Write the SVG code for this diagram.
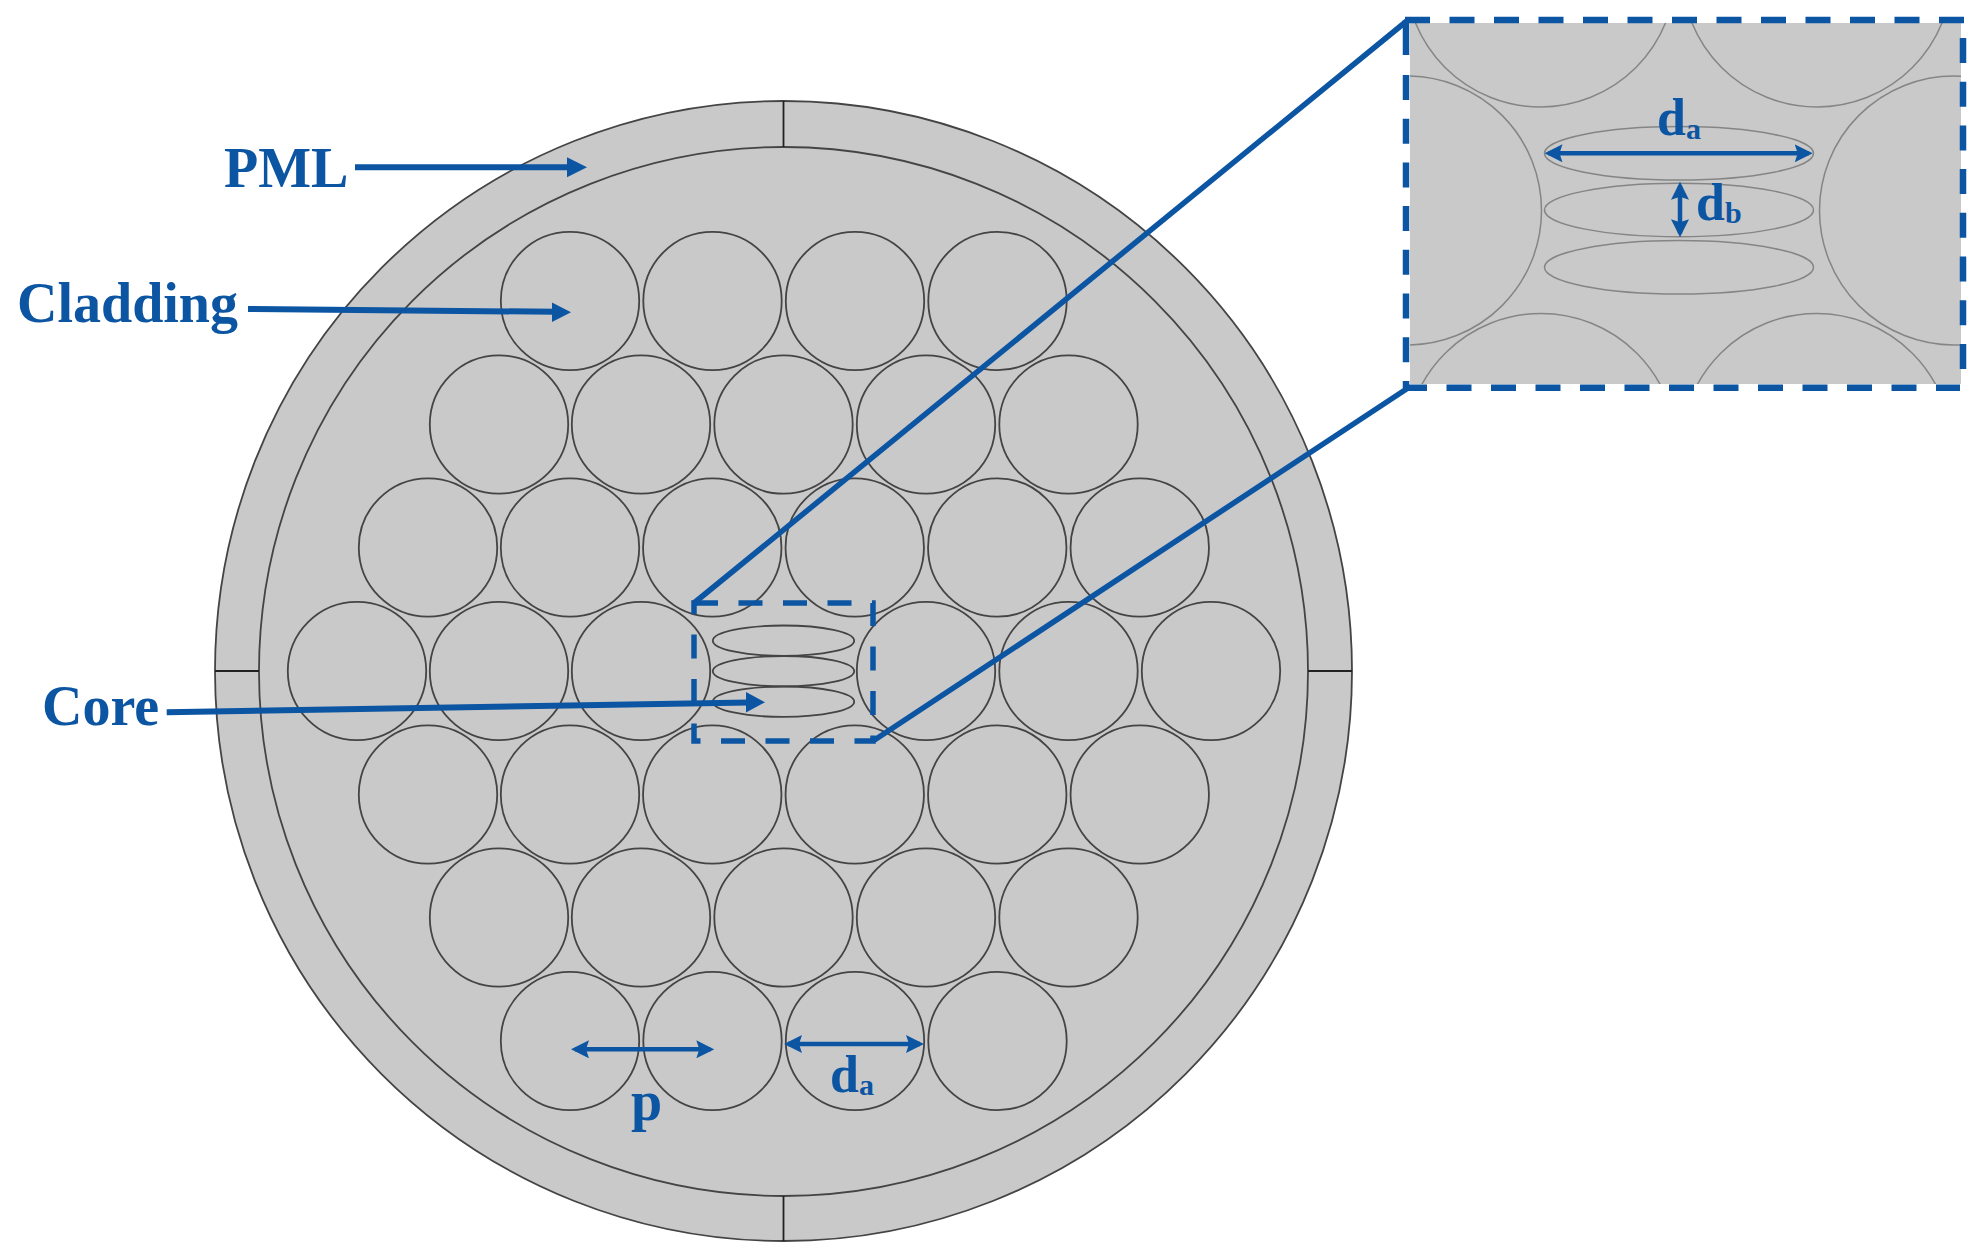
<svg xmlns="http://www.w3.org/2000/svg" width="1987" height="1255" viewBox="0 0 1987 1255">
<style>
.body{fill:#c9c9c9;stroke:#444;stroke-width:1.8}
.hole{fill:none;stroke:#444;stroke-width:1.8}
.thin{fill:none;stroke:#858585;stroke-width:1.5}
.blue{stroke:#0b55a3;fill:none}
.head{fill:#0b55a3;stroke:none}
text{font-family:"Liberation Serif","Times New Roman",serif;font-weight:700;fill:#0b55a3}
</style>
<defs>
<circle id="c" r="69.2" class="hole"/>
<ellipse id="e" rx="70.7" ry="15.2" class="hole"/>
<clipPath id="inset"><rect x="1410" y="23" width="551" height="361"/></clipPath>
<marker id="ah" viewBox="0 0 18 18" refX="14" refY="9" markerWidth="18" markerHeight="18" markerUnits="userSpaceOnUse" orient="auto-start-reverse"><path d="M0 0L18 9L0 18L3 9Z" class="head"/></marker>
</defs>
<g id="fiber">
<ellipse class="body" cx="783.5" cy="671" rx="568.5" ry="570"/>
<circle class="hole" cx="783.5" cy="671.5" r="524.5"/>
<path class="hole" d="M783.5 101V147M783.5 1196V1241M215 671H259M1308 671H1352" style="stroke:#222"/>
</g>
<g id="holes">
<use href="#c" x="570" y="301"/><use href="#c" x="712.5" y="301"/><use href="#c" x="855" y="301"/><use href="#c" x="997.5" y="301"/>
<use href="#c" x="499" y="424.5"/><use href="#c" x="641" y="424.5"/><use href="#c" x="783.5" y="424.5"/><use href="#c" x="926" y="424.5"/><use href="#c" x="1068.5" y="424.5"/>
<use href="#c" x="428" y="547.5"/><use href="#c" x="570" y="547.5"/><use href="#c" x="712.25" y="547.5"/><use href="#c" x="854.75" y="547.5"/><use href="#c" x="997.25" y="547.5"/><use href="#c" x="1139.75" y="547.5"/>
<use href="#c" x="357" y="671"/><use href="#c" x="499" y="671"/><use href="#c" x="641" y="671"/><use href="#c" x="926" y="671"/><use href="#c" x="1068.5" y="671"/><use href="#c" x="1211" y="671"/>
<use href="#c" x="428" y="794.5"/><use href="#c" x="570" y="794.5"/><use href="#c" x="712.25" y="794.5"/><use href="#c" x="854.75" y="794.5"/><use href="#c" x="997.25" y="794.5"/><use href="#c" x="1139.75" y="794.5"/>
<use href="#c" x="499" y="917.5"/><use href="#c" x="641" y="917.5"/><use href="#c" x="783.5" y="917.5"/><use href="#c" x="926" y="917.5"/><use href="#c" x="1068.5" y="917.5"/>
<use href="#c" x="570" y="1041"/><use href="#c" x="712.5" y="1041"/><use href="#c" x="855" y="1041"/><use href="#c" x="997.5" y="1041"/>
</g>
<g id="core">
<use href="#e" x="783.5" y="640.7"/><use href="#e" x="783.5" y="671.2"/><use href="#e" x="783.5" y="701.7"/>
</g>
<g id="inset-view">
<rect x="1410" y="23" width="551" height="361" fill="#c9c9c9"/>
<g clip-path="url(#inset)" class="thin">
<circle cx="1540.5" cy="-28" r="135"/><circle cx="1817" cy="-28" r="135"/>
<circle cx="1407" cy="210.5" r="134.5"/><circle cx="1954" cy="210.5" r="134.5"/>
<circle cx="1541" cy="449" r="135.5"/><circle cx="1816.5" cy="449" r="135.5"/>
<ellipse cx="1679" cy="153.3" rx="134.5" ry="26.7"/><ellipse cx="1679" cy="210" rx="134.5" ry="26.7"/><ellipse cx="1679" cy="267.3" rx="134.5" ry="26.7"/>
</g>
</g>
<g id="connectors">
<g class="blue" stroke-width="5.5">
<rect x="694" y="603" width="179" height="138" stroke-dasharray="24 20.5"/>
<path d="M694 603L1408 20M873 741L1408 388"/>
</g>
<g class="blue" stroke-width="6.5">
<path d="M1405 20H1964" stroke-dasharray="25 19.5"/>
<path d="M1963 38V380" stroke-dasharray="25 18.7"/>
<path d="M1405 387.7H1960" stroke-dasharray="25 19.5" stroke-dashoffset="3"/>
<path d="M1406 20V55"/>
<path d="M1406 75V388" stroke-dasharray="25 18.7"/>
</g>
<g class="blue" stroke-width="6">
<path d="M355 167.3H570"/><path d="M248 309L555 311.8"/><path d="M166.7 712.3L749 702.5"/>
</g>
<path class="head" d="M587 167.3L567 157.3V177.3Z"/>
<path class="head" d="M571 312.3L552 302.5V322Z"/>
<path class="head" d="M765 702.3L746 692V712.5Z"/>
<g class="blue" stroke-width="4.5">
<path d="M575 1049.3H710.3" marker-start="url(#ah)" marker-end="url(#ah)"/>
<path d="M788 1044H920" marker-start="url(#ah)" marker-end="url(#ah)"/>
<path d="M1548.5 153.3H1808.7" marker-start="url(#ah)" marker-end="url(#ah)"/>
<path d="M1680 185.7V233.3" marker-start="url(#ah)" marker-end="url(#ah)"/>
</g>
</g>
<g id="labels">
<text x="224" y="187.3" font-size="56">PML</text>
<text x="17" y="321.7" font-size="56">Cladding</text>
<text x="42" y="725" font-size="56">Core</text>
<text x="631" y="1119.5" font-size="56">p</text>
<text x="830" y="1091.7" font-size="52">d<tspan font-size="30" dy="3.3">a</tspan></text>
<text x="1657" y="135" font-size="52">d<tspan font-size="30" dy="4">a</tspan></text>
<text x="1696" y="220" font-size="52">d<tspan font-size="30" dy="3.3">b</tspan></text>
</g>
</svg>
